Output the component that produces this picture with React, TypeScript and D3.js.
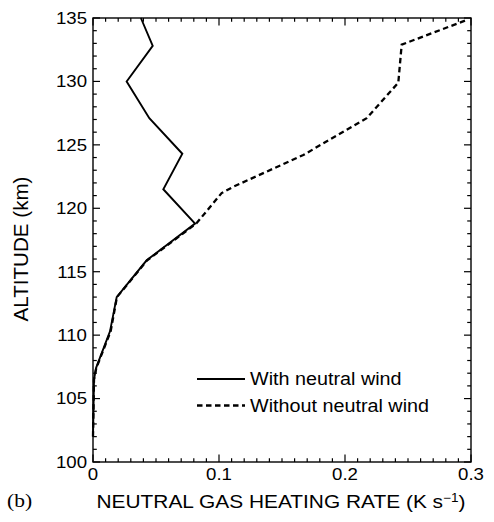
import React from "react";
import * as d3 from "d3";

// Heating-rate profiles: [rate (K/s), altitude (km)]
const withWind: [number, number][] = [
  [0.0, 102.0],
  [0.0008, 106.5],
  [0.0024, 107.4],
  [0.0135, 110.3],
  [0.0188, 113.0],
  [0.0426, 115.9],
  [0.081, 118.8],
  [0.0558, 121.5],
  [0.0709, 124.3],
  [0.0447, 127.1],
  [0.0267, 130.0],
  [0.0474, 132.8],
  [0.038, 135.0],
];

const withoutWind: [number, number][] = [
  [0.0, 102.0],
  [0.0008, 106.5],
  [0.0026, 107.4],
  [0.014, 110.3],
  [0.019, 113.0],
  [0.043, 115.9],
  [0.082, 118.8],
  [0.1021, 121.2],
  [0.1114, 121.7],
  [0.1669, 124.2],
  [0.2172, 127.1],
  [0.2423, 129.9],
  [0.245, 132.9],
  [0.2955, 134.8],
];

const xTicks = [0, 0.1, 0.2, 0.3];
const xTickLabels = ["0", "0.1", "0.2", "0.3"];
const yTicks = [100, 105, 110, 115, 120, 125, 130, 135];
const legendLabels = ["With neutral wind", "Without neutral wind"];

const W = 494;
const H = 522;
const M = { left: 93, top: 18, right: 471, bottom: 462 };
const SX = 1.13; // horizontal text stretch
const FONT = "'Liberation Sans', Arial, Helvetica, sans-serif";

export default function App() {
  const x = d3.scaleLinear().domain([0, 0.3]).range([M.left, M.right]);
  const y = d3.scaleLinear().domain([100, 135]).range([M.bottom, M.top]);

  const line = d3
    .line<[number, number]>()
    .x((d) => x(d[0]))
    .y((d) => y(d[1]));

  const xMinor = d3.range(0, 0.3001, 0.01);
  const yMinor = d3.range(100, 135.001, 1);

  const stroke = "#000";

  return (
    <svg width={W} height={H} style={{ display: "block", position: "absolute", left: 0, top: 0 }}>
      <rect width={W} height={H} fill="#fff" />
      {/* frame */}
      <rect
        x={M.left}
        y={M.top}
        width={M.right - M.left}
        height={M.bottom - M.top}
        fill="none"
        stroke={stroke}
        strokeWidth={1.4}
      />
      {/* x ticks, bottom & top, inward */}
      {xMinor.map((v, i) => {
        const major = i % 10 === 0;
        const len = major ? 7.5 : 3.8;
        const px = x(v);
        return (
          <g key={"xt" + i}>
            <line x1={px} x2={px} y1={M.bottom} y2={M.bottom - len} stroke={stroke} strokeWidth={1.2} />
            <line x1={px} x2={px} y1={M.top} y2={M.top + len} stroke={stroke} strokeWidth={1.2} />
          </g>
        );
      })}
      {/* y ticks, left & right, inward */}
      {yMinor.map((v, i) => {
        const major = i % 5 === 0;
        const len = major ? 7 : 3.8;
        const py = y(v);
        return (
          <g key={"yt" + i}>
            <line x1={M.left} x2={M.left + len} y1={py} y2={py} stroke={stroke} strokeWidth={1.2} />
            <line x1={M.right} x2={M.right - len} y1={py} y2={py} stroke={stroke} strokeWidth={1.2} />
          </g>
        );
      })}
      {/* x tick labels */}
      {xTicks.map((v, i) => (
        <g key={"xl" + i} transform={`translate(${x(v)},480) scale(${SX},1)`}>
          <text textAnchor="middle" fontFamily={FONT} fontSize={16.5} fill="#000">
            {xTickLabels[i]}
          </text>
        </g>
      ))}
      {/* y tick labels */}
      {yTicks.map((v) => (
        <g key={"yl" + v} transform={`translate(87,${y(v) + 5.9}) scale(${SX},1)`}>
          <text textAnchor="end" fontFamily={FONT} fontSize={16.5} fill="#000">
            {v}
          </text>
        </g>
      ))}
      {/* axis titles */}
      <g transform={`translate(${(M.left + M.right) / 2 - 1},508) scale(${SX},1)`}>
        <text textAnchor="middle" fontFamily={FONT} fontSize={18.5} fill="#000">
          NEUTRAL GAS HEATING RATE (K s
          <tspan dy={-6} fontSize={12}>
            −1
          </tspan>
          <tspan dy={6}>)</tspan>
        </text>
      </g>
      <g transform={`translate(28,${(175 + 323) / 2}) rotate(-90)`}>
        <text textAnchor="middle" fontFamily={FONT} fontSize={20.6} fill="#000">
          ALTITUDE (km)
        </text>
      </g>
      <g transform={`translate(7,507) scale(${SX},1)`}>
        <text fontFamily="'Liberation Serif', 'Times New Roman', serif" fontSize={19} fill="#000">
          (b)
        </text>
      </g>
      {/* profiles */}
      <path d={line(withoutWind) ?? ""} fill="none" stroke={stroke} strokeWidth={2.3} strokeDasharray="5.5,3.5" />
      <path d={line(withWind) ?? ""} fill="none" stroke={stroke} strokeWidth={1.9} strokeLinejoin="miter" />
      {/* legend */}
      <line x1={197} x2={245} y1={379} y2={379} stroke={stroke} strokeWidth={1.9} />
      <line x1={197} x2={245} y1={405.5} y2={405.5} stroke={stroke} strokeWidth={2.3} strokeDasharray="5.5,3.5" />
      <g transform={`translate(250,385) scale(${SX},1)`}>
        <text fontFamily={FONT} fontSize={17.5} fill="#000">
          {legendLabels[0]}
        </text>
      </g>
      <g transform={`translate(250,411.5) scale(${SX},1)`}>
        <text fontFamily={FONT} fontSize={17.5} fill="#000">
          {legendLabels[1]}
        </text>
      </g>
    </svg>
  );
}
